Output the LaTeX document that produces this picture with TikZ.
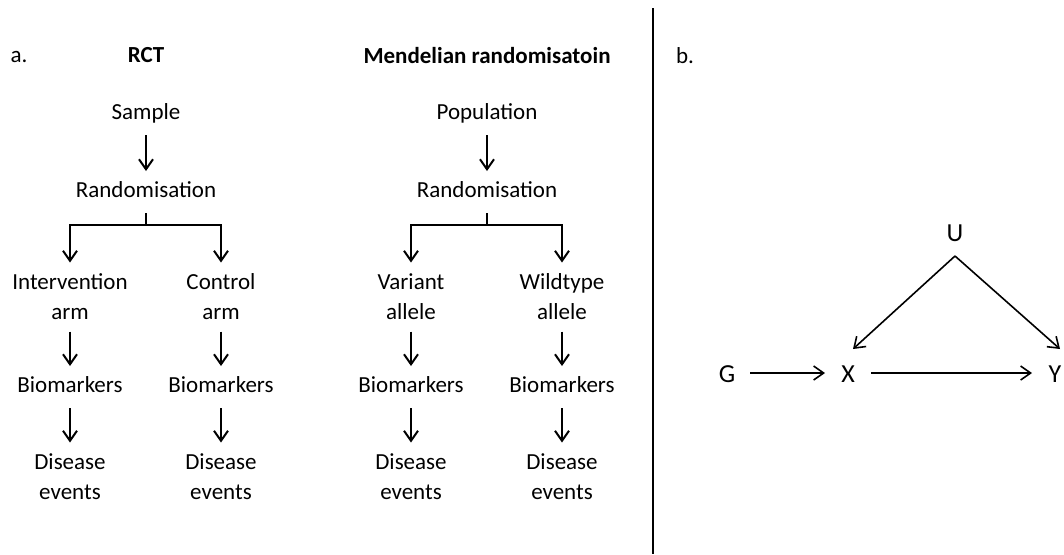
\documentclass[tikz,border=0pt]{standalone}
\usepackage{fontspec}
\setmainfont{Carlito}
\usepackage{tikz}
\usetikzlibrary{
    arrows.meta,
    positioning
}

\begin{document}
\begin{tikzpicture}[x=0.5pt, y=-0.5pt,
        every node/.style={font=\fontsize{11.5}{15}\selectfont, inner sep=0pt, outer sep=0pt},
        lbl/.style={minimum height=21pt, text height=8pt, text depth=2.5pt},
        lbltwo/.style={minimum height=34.5pt, align=center},
        head/.style={lbl, font=\fontsize{11.5}{15}\selectfont\bfseries},
        arr/.style={line width=1pt, -{Straight Barb[length=5pt, width=7pt]}},
        dag/.style={minimum height=24pt, minimum width=23pt, text height=9pt, text depth=0pt, font=\fontsize{13}{15}\selectfont},
        darr/.style={line width=0.8pt, -{Straight Barb[length=5pt, width=7pt]}}]
                                \useasboundingbox (0, 0) rectangle (1064, 554);
                                % panel labels and headings
                                \node[lbl] (pa) at (19, 57) {a.};
                                \node[lbl] (pb) at (685, 58) {b.};
                                \node[head] (rcthead) at (146, 57) {RCT};
                                \node[head] (mrhead) at (487, 58) {Mendelian randomisatoin};
                                % RCT
                                \node[lbl] (rctSample) at (146, 114) {Sample};
                                \node[lbl] (rctRand) at (146, 192) {Randomisation};
                                \coordinate (rctBar) at (146, 225);
                                \node[lbltwo] (rctIntv) at (70, 297) {Intervention\\arm};
                                \node[lbltwo] (rctCtrl) at (221, 297) {Control\\arm};
                                \node[lbl] (rctBioI) at (70, 387) {Biomarkers};
                                \node[lbl] (rctBioC) at (221, 387) {Biomarkers};
                                \node[lbltwo] (rctDisI) at (70, 477) {Disease\\events};
                                \node[lbltwo] (rctDisC) at (221, 477) {Disease\\events};
                                \draw[arr] (rctSample) -- (rctRand);
                                \draw[line width=1pt] (rctRand) -- (rctBar);
                                \draw[arr] (rctBar) -| (rctIntv);
                                \draw[arr] (rctBar) -| (rctCtrl);
                                \draw[arr] (rctIntv) -- (rctBioI);
                                \draw[arr] (rctCtrl) -- (rctBioC);
                                \draw[arr] (rctBioI) -- (rctDisI);
                                \draw[arr] (rctBioC) -- (rctDisC);
                                % Mendelian randomisation
                                \node[lbl] (mrPop) at (487, 114) {Population};
                                \node[lbl] (mrRand) at (487, 192) {Randomisation};
                                \coordinate (mrBar) at (487, 225);
                                \node[lbltwo] (mrVar) at (411, 297) {Variant\\allele};
                                \node[lbltwo] (mrWild) at (562, 297) {Wildtype\\allele};
                                \node[lbl] (mrBioV) at (411, 387) {Biomarkers};
                                \node[lbl] (mrBioW) at (562, 387) {Biomarkers};
                                \node[lbltwo] (mrDisV) at (411, 477) {Disease\\events};
                                \node[lbltwo] (mrDisW) at (562, 477) {Disease\\events};
                                \draw[arr] (mrPop) -- (mrRand);
                                \draw[line width=1pt] (mrRand) -- (mrBar);
                                \draw[arr] (mrBar) -| (mrVar);
                                \draw[arr] (mrBar) -| (mrWild);
                                \draw[arr] (mrVar) -- (mrBioV);
                                \draw[arr] (mrWild) -- (mrBioW);
                                \draw[arr] (mrBioV) -- (mrDisV);
                                \draw[arr] (mrBioW) -- (mrDisW);
                                % separator
                                \coordinate (sepTop) at (653, 8);
                                \coordinate (sepBot) at (653, 554);
                                \draw[line width=1pt] (sepTop) -- (sepBot);
                                % instrumental variable graph
                                \node[dag] (U) at (955, 232) {U};
                                \node[dag] (G) at (727, 373) {G};
                                \node[dag] (X) at (848, 373) {X};
                                \node[dag] (Y) at (1055, 373) {Y};
                                \draw[darr] (U.south) -- ([xshift=2.5pt]X.north);
                                \draw[darr] (U.south) -- ([xshift=2.5pt]Y.north);
                                \draw[darr] (G) -- (X);
                                \draw[darr] (X) -- (Y);
                            \end{tikzpicture}
\end{document}
